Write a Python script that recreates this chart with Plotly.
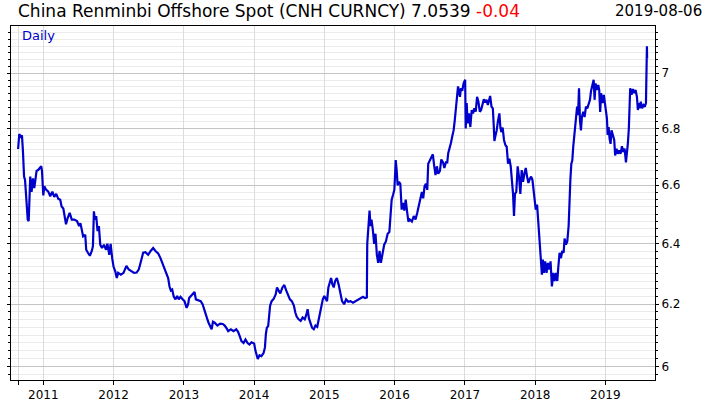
import math
import plotly.graph_objects as go

# ---------------- data ----------------
dates = [
    "2010-08-23", "2010-08-29", "2010-09-07", "2010-09-12", "2010-09-17", "2010-09-23", "2010-09-28",
    "2010-10-05", "2010-10-12", "2010-10-17", "2010-10-22", "2010-10-25", "2010-11-01", "2010-11-08",
    "2010-11-15", "2010-11-20", "2010-11-27", "2010-12-05", "2010-12-16", "2010-12-21", "2010-12-25",
    "2010-12-28",
    "2011-01-01", "2011-01-06", "2011-01-15", "2011-01-27", "2011-02-06", "2011-02-17", "2011-02-27",
    "2011-03-09", "2011-03-20", "2011-03-30", "2011-04-06", "2011-04-15", "2011-04-20", "2011-04-29",
    "2011-05-08", "2011-05-18", "2011-05-29", "2011-06-11", "2011-06-25", "2011-07-06", "2011-07-13",
    "2011-07-20", "2011-07-27", "2011-08-07", "2011-08-12", "2011-08-21", "2011-08-31", "2011-09-10",
    "2011-09-16", "2011-09-21", "2011-09-26", "2011-10-03", "2011-10-10", "2011-10-17", "2011-10-24",
    "2011-11-02", "2011-11-12", "2011-11-23", "2011-11-30", "2011-12-10", "2011-12-17", "2011-12-25",
    "2012-01-01", "2012-01-10", "2012-01-18", "2012-01-25", "2012-02-08", "2012-02-22", "2012-03-08",
    "2012-03-20", "2012-04-03", "2012-04-17", "2012-04-30", "2012-05-11", "2012-05-18", "2012-05-25",
    "2012-06-03", "2012-06-15", "2012-06-29", "2012-07-12", "2012-07-25", "2012-08-06", "2012-08-20",
    "2012-09-01", "2012-09-10", "2012-09-20", "2012-10-01", "2012-10-11", "2012-10-18", "2012-10-25",
    "2012-11-01", "2012-11-09", "2012-11-18", "2012-11-27", "2012-12-05", "2012-12-14", "2012-12-25",
    "2013-01-04", "2013-01-15", "2013-01-23", "2013-01-28", "2013-02-08", "2013-02-18", "2013-02-25",
    "2013-03-04", "2013-03-15", "2013-03-29", "2013-04-08", "2013-04-15", "2013-04-24", "2013-05-03",
    "2013-05-09", "2013-05-16", "2013-05-25", "2013-06-01", "2013-06-10", "2013-06-24", "2013-07-08",
    "2013-07-22", "2013-08-01", "2013-08-12", "2013-08-19", "2013-09-02", "2013-09-16", "2013-09-30",
    "2013-10-10", "2013-10-19", "2013-10-27", "2013-11-07", "2013-11-17", "2013-11-28", "2013-12-08",
    "2013-12-18",
    "2014-01-01", "2014-01-08", "2014-01-15", "2014-01-20", "2014-01-29", "2014-02-08", "2014-02-19",
    "2014-02-26", "2014-03-03", "2014-03-08", "2014-03-15", "2014-03-20", "2014-03-25", "2014-04-02",
    "2014-04-13", "2014-04-23", "2014-04-30", "2014-05-07", "2014-05-17", "2014-05-28", "2014-06-07",
    "2014-06-16", "2014-06-25", "2014-07-06", "2014-07-16", "2014-07-27", "2014-08-03", "2014-08-10",
    "2014-08-20", "2014-08-31", "2014-09-10", "2014-09-21", "2014-09-30", "2014-10-06", "2014-10-13",
    "2014-10-22", "2014-10-29", "2014-11-07", "2014-11-16", "2014-11-25", "2014-12-03", "2014-12-10",
    "2014-12-17", "2014-12-24",
    "2015-01-01", "2015-01-08", "2015-01-15", "2015-01-22", "2015-01-29", "2015-02-05", "2015-02-12",
    "2015-02-19", "2015-02-26", "2015-03-07", "2015-03-16", "2015-03-25", "2015-04-03", "2015-04-14",
    "2015-04-24", "2015-05-05", "2015-05-17", "2015-05-30", "2015-06-12", "2015-06-26", "2015-07-10",
    "2015-07-21", "2015-07-31", "2015-08-10", "2015-08-12", "2015-08-17", "2015-08-24", "2015-08-29",
    "2015-09-03", "2015-09-10", "2015-09-17", "2015-09-24", "2015-10-01", "2015-10-08", "2015-10-15",
    "2015-10-22", "2015-10-31", "2015-11-08", "2015-11-17", "2015-11-26", "2015-12-05", "2015-12-10",
    "2015-12-17", "2015-12-24", "2015-12-31",
    "2016-01-04", "2016-01-07", "2016-01-12", "2016-01-17", "2016-01-24", "2016-01-31", "2016-02-07",
    "2016-02-14", "2016-02-21", "2016-02-28", "2016-03-06", "2016-03-13", "2016-03-20", "2016-03-31",
    "2016-04-10", "2016-04-19", "2016-04-28", "2016-05-06", "2016-05-15", "2016-05-22", "2016-05-29",
    "2016-06-05", "2016-06-12", "2016-06-19", "2016-06-24", "2016-07-01", "2016-07-10", "2016-07-18",
    "2016-07-25", "2016-08-01", "2016-08-08", "2016-08-15", "2016-08-24", "2016-08-31", "2016-09-09",
    "2016-09-16", "2016-09-24", "2016-10-01", "2016-10-06", "2016-10-13", "2016-10-20", "2016-10-28",
    "2016-11-03", "2016-11-09", "2016-11-16", "2016-11-21", "2016-11-26", "2016-12-01", "2016-12-06",
    "2016-12-11", "2016-12-18", "2016-12-25",
    "2017-01-02", "2017-01-05", "2017-01-10", "2017-01-15", "2017-01-22", "2017-01-29", "2017-02-05",
    "2017-02-12", "2017-02-19", "2017-02-26", "2017-03-05", "2017-03-12", "2017-03-19", "2017-03-26",
    "2017-04-02", "2017-04-09", "2017-04-16", "2017-04-23", "2017-04-30", "2017-05-07", "2017-05-12",
    "2017-05-19", "2017-05-26", "2017-05-31", "2017-06-03", "2017-06-08", "2017-06-15", "2017-06-22",
    "2017-06-29", "2017-07-04", "2017-07-09", "2017-07-16", "2017-07-23", "2017-07-30", "2017-08-06",
    "2017-08-13", "2017-08-20", "2017-08-27", "2017-09-03", "2017-09-08", "2017-09-13", "2017-09-18",
    "2017-09-25", "2017-10-02", "2017-10-09", "2017-10-16", "2017-10-23", "2017-10-30", "2017-11-06",
    "2017-11-13", "2017-11-20", "2017-11-27", "2017-12-04", "2017-12-11", "2017-12-18", "2017-12-23",
    "2017-12-30",
    "2018-01-04", "2018-01-11", "2018-01-16", "2018-01-21", "2018-01-26", "2018-01-31", "2018-02-05",
    "2018-02-10", "2018-02-15", "2018-02-22", "2018-03-01", "2018-03-08", "2018-03-15", "2018-03-22",
    "2018-03-29", "2018-04-05", "2018-04-12", "2018-04-19", "2018-04-26", "2018-05-01", "2018-05-08",
    "2018-05-15", "2018-05-22", "2018-05-29", "2018-06-03", "2018-06-10", "2018-06-17", "2018-06-24",
    "2018-06-28", "2018-07-03", "2018-07-08", "2018-07-13", "2018-07-18", "2018-07-23", "2018-07-28",
    "2018-08-02", "2018-08-07", "2018-08-12", "2018-08-17", "2018-08-22", "2018-08-27", "2018-09-01",
    "2018-09-08", "2018-09-15", "2018-09-22", "2018-09-29", "2018-10-06", "2018-10-13", "2018-10-18",
    "2018-10-25", "2018-11-01", "2018-11-06", "2018-11-11", "2018-11-18", "2018-11-25", "2018-11-30",
    "2018-12-05", "2018-12-10", "2018-12-17", "2018-12-24", "2018-12-31",
    "2019-01-04", "2019-01-09", "2019-01-13", "2019-01-18", "2019-01-23", "2019-01-28", "2019-02-02",
    "2019-02-09", "2019-02-16", "2019-02-21", "2019-02-28", "2019-03-07", "2019-03-14", "2019-03-21",
    "2019-03-28", "2019-04-04", "2019-04-11", "2019-04-18", "2019-04-23", "2019-04-28", "2019-05-03",
    "2019-05-06", "2019-05-10", "2019-05-17", "2019-05-24", "2019-05-31", "2019-06-07", "2019-06-14",
    "2019-06-19", "2019-06-24", "2019-06-29", "2019-07-04", "2019-07-11", "2019-07-18", "2019-07-25",
    "2019-07-31", "2019-08-02", "2019-08-05", "2019-08-06",
]

cnh = [
    6.727, 6.78, 6.77, 6.775, 6.72, 6.63, 6.618,
    6.56, 6.482, 6.477, 6.57, 6.63, 6.577, 6.624,
    6.59, 6.618, 6.65, 6.653, 6.66, 6.666, 6.65,
    6.618,
    6.565, 6.596, 6.585, 6.578, 6.562, 6.578, 6.56,
    6.57, 6.553, 6.55, 6.527, 6.52, 6.494, 6.466,
    6.488, 6.505, 6.482, 6.482, 6.477, 6.46, 6.47,
    6.448, 6.425, 6.43, 6.38, 6.37, 6.36, 6.376,
    6.392, 6.51, 6.482, 6.494, 6.443, 6.46, 6.397,
    6.386, 6.397, 6.38, 6.40, 6.363, 6.40, 6.352,
    6.324, 6.308, 6.286, 6.303, 6.297, 6.303, 6.326,
    6.314, 6.308, 6.303, 6.304, 6.314, 6.33, 6.349,
    6.37, 6.372, 6.363, 6.376, 6.386, 6.376, 6.368,
    6.352, 6.336, 6.316, 6.303, 6.286, 6.258, 6.245,
    6.248, 6.225, 6.216, 6.227, 6.216, 6.224, 6.216,
    6.21, 6.188, 6.2, 6.22, 6.227, 6.234, 6.24,
    6.216, 6.214, 6.21, 6.2, 6.188, 6.173, 6.151,
    6.14, 6.129, 6.119, 6.143, 6.14, 6.131, 6.137,
    6.136, 6.131, 6.121, 6.113, 6.119, 6.113, 6.119,
    6.11, 6.095, 6.081, 6.075, 6.086, 6.075, 6.07,
    6.077,
    6.073, 6.05, 6.033, 6.024, 6.036, 6.033, 6.043,
    6.06, 6.103, 6.124, 6.129, 6.162, 6.195, 6.21,
    6.218, 6.232, 6.255, 6.246, 6.235, 6.255, 6.263,
    6.246, 6.232, 6.216, 6.21, 6.195, 6.173, 6.16,
    6.151, 6.146, 6.157, 6.151, 6.167, 6.184, 6.154,
    6.14, 6.124, 6.119, 6.131, 6.127, 6.151, 6.167,
    6.188, 6.216,
    6.227, 6.216, 6.21, 6.255, 6.276, 6.286, 6.265,
    6.255, 6.276, 6.286, 6.265, 6.232, 6.21, 6.2,
    6.216, 6.208, 6.21, 6.205, 6.21, 6.213, 6.218,
    6.224, 6.22, 6.222, 6.40, 6.46, 6.513, 6.46,
    6.482, 6.448, 6.40, 6.434, 6.363, 6.336, 6.376,
    6.336, 6.376, 6.397, 6.408, 6.434, 6.44, 6.494,
    6.55, 6.566, 6.584,
    6.64, 6.688, 6.653, 6.60, 6.612, 6.605, 6.516,
    6.539, 6.513, 6.55, 6.51, 6.475, 6.482, 6.475,
    6.494, 6.482, 6.505, 6.527, 6.561, 6.577, 6.555,
    6.596, 6.605, 6.584, 6.675, 6.686, 6.698, 6.708,
    6.668, 6.635, 6.666, 6.64, 6.65, 6.69, 6.68,
    6.66, 6.68, 6.68, 6.712, 6.727, 6.748, 6.775,
    6.793, 6.829, 6.872, 6.903, 6.952, 6.934, 6.914,
    6.945, 6.936, 6.963,
    6.976, 6.80, 6.891, 6.818, 6.854, 6.805, 6.866,
    6.854, 6.872, 6.86, 6.914, 6.896, 6.86, 6.866,
    6.884, 6.905, 6.893, 6.903, 6.884, 6.909, 6.917,
    6.878, 6.872, 6.805, 6.755, 6.772, 6.793, 6.829,
    6.854, 6.805, 6.787, 6.803, 6.759, 6.741, 6.735,
    6.675, 6.693, 6.666, 6.618, 6.57, 6.494, 6.57,
    6.577, 6.666, 6.63, 6.57, 6.653, 6.612, 6.64,
    6.66, 6.63, 6.608, 6.622, 6.63, 6.618, 6.584,
    6.55,
    6.516, 6.533, 6.482, 6.43, 6.40, 6.336, 6.297,
    6.347, 6.303, 6.341, 6.303, 6.336, 6.314, 6.341,
    6.258, 6.303, 6.276, 6.303, 6.276, 6.32, 6.37,
    6.352, 6.376, 6.37, 6.418, 6.397, 6.408, 6.46,
    6.55, 6.618, 6.675, 6.686, 6.735, 6.77, 6.80,
    6.829, 6.878, 6.848, 6.945, 6.829, 6.793, 6.841,
    6.86, 6.841, 6.878, 6.872, 6.891, 6.903, 6.933,
    6.952, 6.976, 6.903, 6.963, 6.939, 6.957, 6.939,
    6.859, 6.927, 6.891, 6.921, 6.884,
    6.866, 6.836, 6.777, 6.805, 6.763, 6.745, 6.793,
    6.772, 6.759, 6.704, 6.728, 6.71, 6.722, 6.71,
    6.737, 6.716, 6.728, 6.68, 6.735, 6.747, 6.80,
    6.903, 6.945, 6.921, 6.942, 6.927, 6.939, 6.914,
    6.866, 6.891, 6.872, 6.896, 6.872, 6.884, 6.878,
    6.891, 7.008, 7.10, 7.054,
]

y_major = [6.0, 6.2, 6.4, 6.6, 6.8, 7.0]
y_major_text = ["6", "6.2", "6.4", "6.6", "6.8", "7"]
x_ticks = ["2010-08-23", "2011-01-01", "2012-01-01", "2013-01-01", "2014-01-01",
           "2015-01-01", "2016-01-01", "2017-01-01", "2018-01-01", "2019-01-01"]
x_tick_text = ["", "2011", "2012", "2013", "2014", "2015", "2016", "2017", "2018", "2019"]

title_text = "China Renminbi Offshore Spot (CNH CURNCY) 7.0539"
change_text = "-0.04"
date_text = "2019-08-06"

# ---------------- figure ----------------
FONT = "DejaVu Sans"
LINE = "#0000cc"

minor_vals = [round(5.975 + 0.025 * i, 3) for i in range(48)]
minor_vals = [v for v in minor_vals if all(abs(v - m) > 1e-6 for m in y_major)]

fig = go.Figure()
fig.add_trace(go.Scatter(x=dates, y=cnh, mode="lines",
                         line=dict(color=LINE, width=2.2), hoverinfo="skip",
                         showlegend=False))

fig.update_layout(
    width=706, height=403,
    margin=dict(l=11, r=51, t=26, b=23),
    paper_bgcolor="white", plot_bgcolor="white",
    font=dict(family=FONT, size=12, color="black"),
    showlegend=False,
    xaxis=dict(
        type="date", automargin=False,
        range=["2010-07-17", "2019-09-16"],
        tickmode="array", tickvals=x_ticks, ticktext=x_tick_text,
        ticks="outside", ticklen=4, tickcolor="black", tickwidth=1,
        showgrid=True, gridcolor="#dcdcdc", gridwidth=1,
        showline=True, linecolor="black", linewidth=1, mirror=True,
        zeroline=False,
        tickfont=dict(family=FONT, size=12, color="black"),
    ),
    yaxis=dict(
        type="log", automargin=False,
        range=[math.log10(5.958), math.log10(7.176)],
        side="right",
        tickmode="array", tickvals=y_major, ticktext=y_major_text,
        ticks="outside", ticklen=3, tickcolor="black", tickwidth=1,
        showgrid=True, gridcolor="#c4c4c4", gridwidth=1,
        showline=True, linecolor="black", linewidth=1, mirror="ticks",
        zeroline=False,
        tickfont=dict(family=FONT, size=12, color="black"),
        minor=dict(tickmode="array", tickvals=minor_vals, ticks="outside",
                   ticklen=2, tickcolor="black", showgrid=True,
                   gridcolor="#ebebeb", gridwidth=1),
    ),
)

fig.add_annotation(
    xref="paper", yref="paper", x=(16 - 11) / 644, y=(380 - 11) / 354,
    xanchor="left", yanchor="middle", showarrow=False,
    text=title_text + " <span style='color:#ff0000'>" + change_text + "</span>",
    font=dict(family=FONT, size=17, color="black"),
)
fig.add_annotation(
    xref="paper", yref="paper", x=(704 - 11) / 644, y=(380 - 11) / 354,
    xanchor="right", yanchor="middle", showarrow=False,
    text=date_text,
    font=dict(family=FONT, size=15, color="black"),
)
fig.add_annotation(
    xref="paper", yref="paper", x=(19.5 - 11) / 644, y=(380 - 36) / 354,
    xanchor="left", yanchor="middle", showarrow=False,
    text="Daily",
    font=dict(family=FONT, size=13, color=LINE),
)

fig.write_html("out.html",
               config={"displayModeBar": False},
               post_script="document.body.style.margin='0px';document.body.style.overflow='hidden';")
